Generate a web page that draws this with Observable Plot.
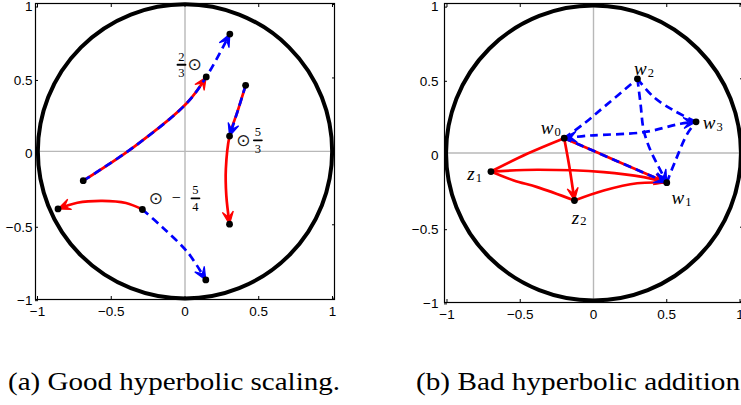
<!DOCTYPE html>
<html><head><meta charset="utf-8">
<script src="https://cdn.jsdelivr.net/npm/d3@7"></script>
<script src="https://cdn.jsdelivr.net/npm/@observablehq/plot@0.6"></script>
<style>
html,body{margin:0;padding:0;background:#fff;overflow:hidden;width:741px;height:405px;}
#root{position:relative;width:741px;height:405px;overflow:hidden;}
#left{position:absolute;left:0;top:0;width:370px;}
#right{position:absolute;left:370px;top:0;width:400px;}
#left svg,#right svg{max-width:none !important;}
#caps{position:absolute;left:0;top:330px;}
</style></head><body>
<div id="root"><div id="left"></div><div id="right"></div>
<svg id="caps" width="741" height="75">
<text x="8" y="60" font-family="'Liberation Serif', serif" font-size="25" textLength="332" lengthAdjust="spacingAndGlyphs">(a) Good hyperbolic scaling.</text>
<text x="416" y="60" font-family="'Liberation Serif', serif" font-size="25" textLength="324" lengthAdjust="spacingAndGlyphs">(b) Bad hyperbolic addition</text>
</svg></div>
<script>
// ---------- tick values ----------
const xTicks = [-1, -0.5, 0, 0.5, 1];
const yTicks = [-1, -0.5, 0, 0.5, 1];
const tickLabels = ["−1", "−0.5", "0", "0.5", "1"];

// ---------- panel (a): points ----------
const scalingPoints = [
  [-0.69, -0.2], [0.144, 0.507], [0.304, 0.799],
  [0.411, 0.45], [0.302, 0.104], [0.302, -0.496],
  [-0.289, -0.396], [-0.861, -0.392], [0.141, -0.876]
];
// geodesic through A (start), B (2/3 scaled), C
const geodesicA = [[-0.69, -0.2], [-0.348, 0.029], [0.008, 0.324], [0.144, 0.507], [0.304, 0.799]];
// geodesic through D (start), E, F (5/3 scaled)
const geodesicD = [[0.411, 0.45], [0.358, 0.278], [0.302, 0.104], [0.277, -0.12], [0.28, -0.3], [0.302, -0.496]];
// -5/4 scaling from G
const scaledG = [[-0.289, -0.396], [-0.4, -0.352], [-0.56, -0.337], [-0.73, -0.35], [-0.861, -0.392]];
const geodesicG = [[-0.289, -0.396], [-0.15, -0.52], [0.02, -0.69], [0.141, -0.876]];

// annotation glyphs for panel (a)
const odots = [[0.066, 0.592], [0.395, 0.075], [-0.198, -0.32]];
const fractions = [
  {num: "2", den: "3", x: -0.024, y: 0.59},
  {num: "5", den: "3", x: 0.494, y: 0.075},
  {num: "5", den: "4", x: 0.071, y: -0.32}
];
const minusSigns = [{x: -0.06, y: -0.32}];

// ---------- panel (b): points ----------
const additionPoints = {
  w0: [-0.2, 0.1], w1: [0.5, -0.2], w2: [0.3, 0.5], w3: [0.7, 0.21],
  z1: [-0.7, -0.125], z2: [-0.13, -0.32]
};
const redArrowPaths = [
  [[-0.7, -0.125], [-0.384, -0.113], [0.07, -0.129], [0.343, -0.163], [0.5, -0.2]],   // z1 -> w1
  [[-0.2, 0.1], [-0.164, -0.096], [-0.13, -0.32]]                                    // w0 -> z2
];
const redPlainPaths = [
  [[-0.7, -0.125], [-0.453, -0.005], [-0.2, 0.1]],                                   // z1 - w0
  [[-0.7, -0.125], [-0.544, -0.185], [-0.384, -0.23], [-0.13, -0.32]],               // z1 - z2
  [[-0.13, -0.32], [0.07, -0.253], [0.298, -0.204], [0.5, -0.2]],                    // z2 - w1
  [[-0.2, 0.1], [0.15, -0.05], [0.5, -0.2]]                                          // w0 - w1
];
const blueArrowPaths = [
  [[-0.2, 0.1], [0.15, -0.05], [0.5, -0.2]],                                         // w0 -> w1
  [[0.3, 0.5], [0.321, 0.332], [0.343, 0.152], [0.389, 0.017], [0.446, -0.096], [0.5, -0.2]] // w2 -> w1
];
const blueBothPaths = [
  [[-0.2, 0.1], [-0.02, 0.118], [0.343, 0.14], [0.594, 0.197], [0.7, 0.21]]         // w0 <-> w3
];
const bluePlainPaths = [
  [[-0.2, 0.1], [-0.066, 0.197], [0.07, 0.309], [0.3, 0.5]],                         // w0 - w2
  [[0.5, -0.2], [0.56, -0.05], [0.64, 0.129], [0.7, 0.21]],                          // w1 - w3
  [[0.3, 0.5], [0.412, 0.376], [0.548, 0.286], [0.7, 0.21]]                          // w2 - w3
];
const pointLabels = [
  {key: "w0", letter: "w", sub: "0"}, {key: "w1", letter: "w", sub: "1"},
  {key: "w2", letter: "w", sub: "2"}, {key: "w3", letter: "w", sub: "3"},
  {key: "z1", letter: "z", sub: "1"}, {key: "z2", letter: "z", sub: "2"}
];
// label placement (pixel offsets from the point)
const labelOffsets = {
  w0: [-17, -10], w1: [11, 15], w2: [3, -10], w3: [13, 1], z1: [-20, 2], z2: [1, 17]
};

// ---------- helpers ----------
const RED = "#ff0000", BLUE = "#0000ff";
function makeArrow(orient) {
  return (color) => {
    const m = d3.create("svg:marker")
      .attr("viewBox", "-16 -8 18 16")
      .attr("markerUnits", "userSpaceOnUse")
      .attr("markerWidth", 18).attr("markerHeight", 16)
      .attr("refX", 0).attr("refY", 0)
      .attr("orient", orient)
      .attr("overflow", "visible");
    m.append("path")
      .attr("d", "M0,0L-12.5,-5.5L-7,0L-12.5,5.5Z")
      .attr("fill", color).attr("stroke", color)
      .attr("stroke-width", 1.2).attr("stroke-dasharray", "none")
      .attr("stroke-linejoin", "miter");
    return m.node();
  };
}
const arrowEnd = makeArrow("auto");
const arrowStart = makeArrow("auto-start-reverse");
const barShape = {draw(context, l) { context.moveTo(0, 0); context.lineTo(0, -l); }};

function tidy(paths) {
  return paths.flatMap((p, i) => p.map(([x, y]) => ({id: i, x, y})));
}
const fmt = (d) => tickLabels[xTicks.indexOf(d)];

function panel({width, height, marginLeft, marginRight, marginTop, marginBottom, xDomain, yDomain, yPad, marks}) {
  const rPx = ((width - marginLeft - marginRight) / (xDomain[1] - xDomain[0]) +
               (height - marginTop - marginBottom) / (yDomain[1] - yDomain[0])) / 2;
  return Plot.plot({
    width, height, marginLeft, marginRight, marginTop, marginBottom,
    x: {domain: xDomain}, y: {domain: yDomain},
    style: {fontFamily: "'Liberation Sans', Arial, sans-serif", fontSize: "13.5px", color: "black", background: "white", overflow: "visible"},
    marks: [
      Plot.ruleX([0], {stroke: "#b8b8b8", strokeWidth: 1.4}),
      Plot.ruleY([0], {stroke: "#b8b8b8", strokeWidth: 1.4}),
      Plot.dot([{x: 0, y: 0}], {x: "x", y: "y", r: rPx, stroke: "black", strokeWidth: 4, fill: "none"}),
      ...marks,
      Plot.frame({stroke: "black", strokeWidth: 1.2}),
      Plot.axisX({ticks: xTicks, anchor: "bottom", tickSize: -3, tickPadding: 10, tickFormat: fmt, label: null}),
      Plot.axisX({ticks: xTicks, anchor: "top", tickSize: -3, tickFormat: () => "", label: null}),
      Plot.axisY({ticks: yTicks, anchor: "left", tickSize: -3, tickPadding: yPad, tickFormat: fmt, label: null, dy: 2.5}),
      Plot.axisY({ticks: yTicks, anchor: "right", tickSize: -3, tickFormat: () => "", label: null})
    ]
  });
}
const lineOpts = {x: "x", y: "y", z: "id", curve: "catmull-rom", strokeWidth: 2.7, strokeLinecap: "butt"};
const dash = "8,5";

// ---------- panel (a) ----------
const redA = [geodesicA.slice(0, 4), geodesicD, scaledG];
const blueA = [geodesicA, geodesicD.slice(0, 3), geodesicG];
const serif = "'Liberation Serif', 'DejaVu Serif', serif";
const left = panel({
  width: 370, height: 330, marginLeft: 35, marginRight: 36, marginTop: 3, marginBottom: 31,
  xDomain: [-1.0136, 1.0136], yDomain: [-1.009, 1.007], yPad: 6,
  marks: [
    Plot.line(tidy(redA), {...lineOpts, stroke: RED, markerEnd: arrowEnd}),
    Plot.line(tidy(blueA), {...lineOpts, stroke: BLUE, strokeDasharray: dash, markerEnd: arrowEnd}),
    Plot.dot(scalingPoints, {x: d => d[0], y: d => d[1], r: 3.4, fill: "black"}),
    Plot.text(odots, {x: d => d[0], y: d => d[1], text: () => "⊙", fontFamily: "'DejaVu Sans'", fontSize: 17, fill: "#222"}),
    Plot.text(fractions, {x: "x", y: "y", text: "num", dy: -8, fontFamily: serif, fontSize: 12.5}),
    Plot.text(fractions, {x: "x", y: "y", text: "den", dy: 8.5, fontFamily: serif, fontSize: 12.5}),
    Plot.vector(fractions, {x: "x", y: "y", length: 8, rotate: 90, anchor: "middle", shape: barShape, strokeWidth: 1.8, stroke: "black"}),
    Plot.text(minusSigns, {x: "x", y: "y", text: () => "−", fontFamily: serif, fontSize: 16})
  ]
});
document.getElementById("left").append(left);

// ---------- panel (b) ----------
const labelRows = pointLabels.map(d => ({...d, x: additionPoints[d.key][0], y: additionPoints[d.key][1], dx: labelOffsets[d.key][0], dy: labelOffsets[d.key][1]}));
const right = panel({
  width: 400, height: 330, marginLeft: 74, marginRight: 28, marginTop: 3, marginBottom: 28,
  xDomain: [-1.017, 1.017], yDomain: [-1.0075, 1.0075], yPad: 9,
  marks: [
    Plot.line(tidy(redPlainPaths), {...lineOpts, stroke: RED}),
    Plot.line(tidy(redArrowPaths), {...lineOpts, stroke: RED, markerEnd: arrowEnd}),
    Plot.line(tidy(bluePlainPaths), {...lineOpts, stroke: BLUE, strokeDasharray: dash}),
    Plot.line(tidy(blueArrowPaths), {...lineOpts, stroke: BLUE, strokeDasharray: dash, markerEnd: arrowEnd}),
    Plot.line(tidy(blueBothPaths), {...lineOpts, stroke: BLUE, strokeDasharray: dash, markerEnd: arrowEnd, markerStart: arrowStart}),
    Plot.dot(Object.values(additionPoints), {x: d => d[0], y: d => d[1], r: 3.4, fill: "black"}),
    ...labelRows.map(d => Plot.text([d], {x: "x", y: "y", text: "letter", dx: d.dx, dy: d.dy, fontFamily: serif, fontStyle: "italic", fontSize: 19})),
    ...labelRows.map(d => Plot.text([d], {x: "x", y: "y", text: "sub", dx: d.dx + (d.letter === "z" ? 8 : 10.5), dy: d.dy + 4, fontFamily: serif, fontSize: 12.5}))
  ]
});
document.getElementById("right").append(right);
</script>
</body></html>
